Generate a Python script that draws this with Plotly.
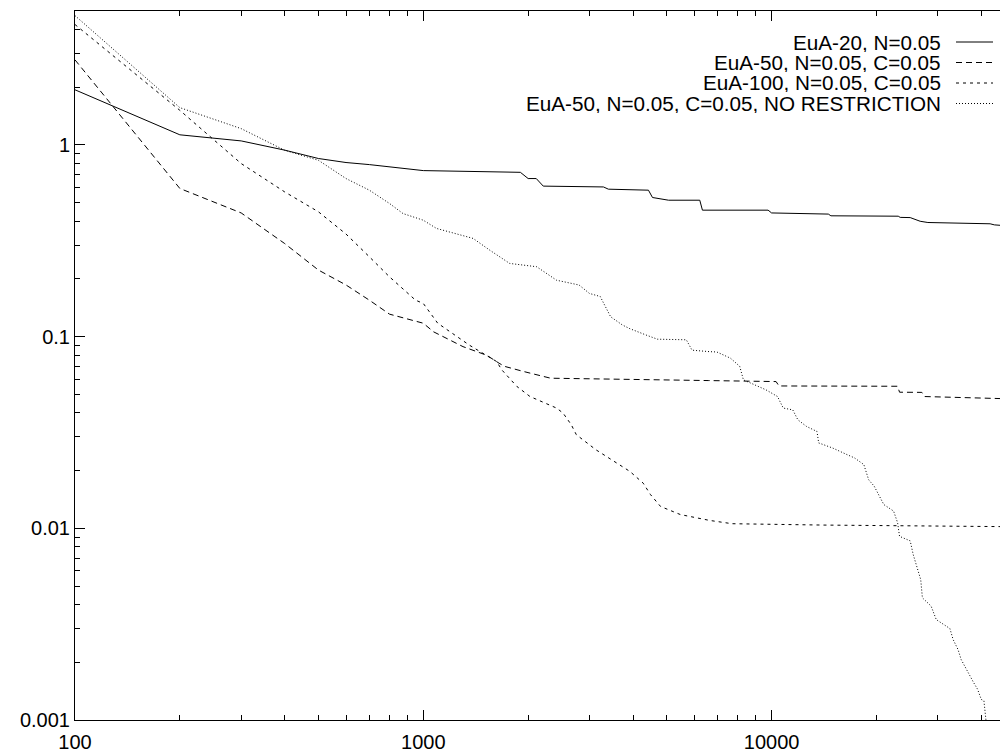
import plotly.graph_objects as go

# ---- data ----
names = [
    "EuA-20, N=0.05",
    "EuA-50, N=0.05, C=0.05",
    "EuA-100, N=0.05, C=0.05",
    "EuA-50, N=0.05, C=0.05, NO RESTRICTION",
]

x_eua20 = [100, 200, 300, 400, 500, 600, 700, 800, 1000, 1900, 2000, 2110, 2210, 3290, 3400,
           4430, 4550, 5060, 6220, 6330, 9770, 10000, 14550, 14800, 23100, 23400, 25000, 26700,
           28100, 42400, 43600, 48000]
y_eua20 = [1.94, 1.13, 1.05, 0.94, 0.85, 0.81, 0.79, 0.77, 0.735, 0.72, 0.668, 0.668, 0.61, 0.604,
           0.588, 0.581, 0.532, 0.515, 0.515, 0.457, 0.457, 0.442, 0.436, 0.427, 0.425, 0.419, 0.418,
           0.40, 0.394, 0.388, 0.383, 0.378]

x_eua50 = [100, 200, 300, 400, 500, 600, 700, 800, 1000, 1070, 1300, 1520, 1650, 1710, 1940,
           2320, 6600, 10300, 10500, 23000, 23300, 27000, 27500, 48000]
y_eua50 = [2.78, 0.593, 0.442, 0.306, 0.2225, 0.186, 0.155, 0.131, 0.1175, 0.106, 0.0887, 0.080,
           0.0727, 0.070, 0.0658, 0.0607, 0.059, 0.0583, 0.0553, 0.0551, 0.0513, 0.0512, 0.0487, 0.0474]

x_eua100 = [100, 200, 300, 400, 500, 600, 700, 800, 950, 1000, 1100, 1360, 1625, 1680, 1856,
            2025, 2413, 2520, 2660, 2750, 3130, 3580, 3920, 4280, 4490, 4800, 5470, 6630, 7700,
            14000, 48000]
y_eua100 = [4.25, 1.516, 0.80, 0.569, 0.448, 0.343, 0.261, 0.205, 0.155, 0.149, 0.1175, 0.09,
            0.0741, 0.0671, 0.055, 0.0487, 0.0424, 0.0399, 0.0347, 0.0308, 0.0257, 0.0219, 0.0198,
            0.0172, 0.015, 0.013, 0.0118, 0.011, 0.01057, 0.0104, 0.0102]

x_nores = [100, 200, 300, 400, 500, 600, 700, 800, 874, 1000, 1091, 1390, 1550, 1770, 2116,
           2413, 2800, 3000, 3220, 3450, 3730, 3920, 4360, 4700, 5690, 5910, 6630, 6960, 7620,
           8100, 8300, 8720, 9170, 9630, 10400, 10800, 11500, 11900, 12600, 13500, 13650, 15000,
           16500, 17300, 18400, 19000, 19700, 21000, 22400, 23000, 23300, 25000, 25500, 26800,
           27100, 28700, 29700, 32500, 33200, 34300, 35000, 36600, 38000, 39000, 40000, 40700,
           41000, 41500]
y_nores = [4.73, 1.566, 1.217, 0.938, 0.832, 0.668, 0.581, 0.495, 0.439, 0.405, 0.367, 0.3255,
           0.283, 0.241, 0.2316, 0.197, 0.186, 0.168, 0.162, 0.127, 0.115, 0.110, 0.102, 0.097,
           0.0963, 0.085, 0.0835, 0.0832, 0.0772, 0.070, 0.0595, 0.0572, 0.055, 0.0528, 0.0487,
           0.0424, 0.0415, 0.0368, 0.034, 0.032, 0.0279, 0.0262, 0.0242, 0.0233, 0.0215, 0.0179,
           0.0166, 0.0133, 0.0123, 0.0107, 0.00908, 0.0086, 0.0073, 0.0054, 0.00434, 0.00393,
           0.00334, 0.0030, 0.00263, 0.00233, 0.00207, 0.00177, 0.00157, 0.00145, 0.00128,
           0.00126, 0.00106, 0.0009]

series_x = [x_eua20, x_eua50, x_eua100, x_nores]
series_y = [y_eua20, y_eua50, y_eua100, y_nores]
dashes = ["solid", "6px,4px", "3px,4px", "1px,2px"]

FONT = "Liberation Sans, Arial, Helvetica, sans-serif"
BODY = 8                      # default page margin around the plot div
W, H = 1000, 744
ML, MR, MT, MB = 67, 0, 3, 32
PW, PH = W - ML - MR, H - MT - MB

fig = go.Figure()
for nm, xs, ys, d in zip(names, series_x, series_y, dashes):
    fig.add_trace(go.Scatter(x=xs, y=ys, mode="lines", name=nm, showlegend=False,
                             line=dict(color="black", width=1, dash=d)))

# gnuplot-style key: text right-aligned, sample line on the right
def px_x(px):
    return (px - BODY - ML) / PW

def px_y(py):
    return (H - MB - (py - BODY)) / PH

key_rows = [42, 62.5, 83, 103.5]
for nm, d, ry in zip(names, dashes, key_rows):
    fig.add_annotation(x=px_x(942), y=px_y(ry), xref="paper", yref="paper", text=nm,
                       showarrow=False, xanchor="right", yanchor="middle", height=19,
                       valign="middle", borderpad=0,
                       font=dict(family=FONT, size=20.7, color="black"))
    fig.add_shape(type="line", xref="paper", yref="paper", x0=px_x(956), x1=px_x(993),
                  y0=px_y(ry), y1=px_y(ry), line=dict(color="black", width=1, dash=d))

axis_common = dict(
    type="log", showgrid=False, zeroline=False, showline=True, linecolor="black", linewidth=1,
    ticks="inside", ticklen=10, tickwidth=1, tickcolor="black",
    tickmode="linear", tick0=0, dtick=1, exponentformat="none",
    tickfont=dict(family=FONT, size=20, color="black"),
    minor=dict(ticks="inside", ticklen=5, tickwidth=1, tickcolor="black", dtick="D1", showgrid=False),
)

fig.update_layout(
    width=W, height=H, margin=dict(l=ML, r=MR, t=MT, b=MB, pad=0),
    paper_bgcolor="white", plot_bgcolor="white",
    xaxis=dict(axis_common, range=[2, 2 + PW / 348.3], mirror="ticks", tickformat="d",
               ticklabelstandoff=4),
    yaxis=dict(axis_common, range=[-3, 0.69897], mirror=False),
)

fig.write_html("out.html")
